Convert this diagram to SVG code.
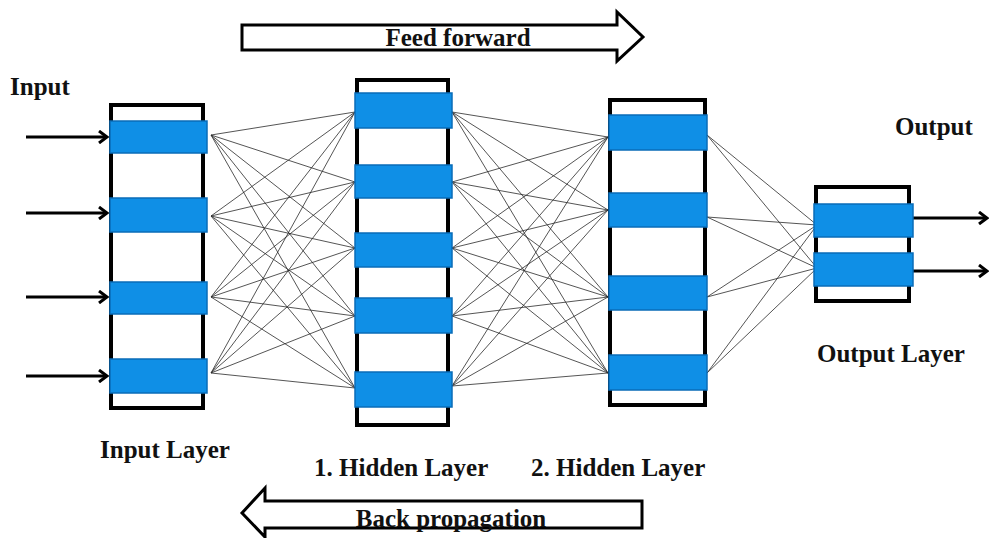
<svg xmlns="http://www.w3.org/2000/svg" width="989" height="538" viewBox="0 0 989 538">
<style>
.box{fill:#fff;stroke:#000;stroke-width:4}
.bar{fill:#0f8fe6;stroke:#0a6cb8;stroke-width:1.5}
.ln{stroke:#2a2a2a;stroke-width:0.8;fill:none}
.io{stroke:#000;stroke-width:3;fill:none}
.big{fill:#fff;stroke:#000;stroke-width:3;stroke-linejoin:miter}
.t{font-family:"Liberation Serif","Times New Roman",serif;font-weight:bold;font-size:25px;fill:#111}
</style>
<defs>
<marker id="ah" markerWidth="14" markerHeight="14" refX="11" refY="7" orient="auto" markerUnits="userSpaceOnUse">
<path d="M3,1 L11,7 L3,13" fill="none" stroke="#000" stroke-width="3"/>
</marker>
</defs>
<rect width="989" height="538" fill="#fff"/>
<g id="connectors">
<g id="in-h1">
<path class="ln" d="M211,135L355,112M211,135L355,182M211,135L355,248M211,135L355,316M211,135L355,388"/>
<path class="ln" d="M211,216L355,112M211,216L355,182M211,216L355,248M211,216L355,316M211,216L355,388"/>
<path class="ln" d="M211,297L355,112M211,297L355,182M211,297L355,248M211,297L355,316M211,297L355,388"/>
<path class="ln" d="M211,373L355,112M211,373L355,182M211,373L355,248M211,373L355,316M211,373L355,388"/>
</g>
<g id="h1-h2">
<path class="ln" d="M452,112L608,137M452,112L608,210M452,112L608,297M452,112L608,373"/>
<path class="ln" d="M452,182L608,137M452,182L608,210M452,182L608,297M452,182L608,373"/>
<path class="ln" d="M452,248L608,137M452,248L608,210M452,248L608,297M452,248L608,373"/>
<path class="ln" d="M452,316L608,137M452,316L608,210M452,316L608,297M452,316L608,373"/>
<path class="ln" d="M452,386L608,137M452,386L608,210M452,386L608,297M452,386L608,373"/>
</g>
<g id="h2-out">
<path class="ln" d="M707,135L817,225M707,135L817,268M707,217L817,225M707,217L817,268M707,297L817,225M707,297L817,268M707,373L817,225M707,373L817,268"/>
</g>
<g id="inputs">
<line class="io" x1="26" y1="137" x2="107" y2="137" marker-end="url(#ah)"/>
<line class="io" x1="26" y1="213" x2="107" y2="213" marker-end="url(#ah)"/>
<line class="io" x1="26" y1="297" x2="107" y2="297" marker-end="url(#ah)"/>
<line class="io" x1="26" y1="376" x2="107" y2="376" marker-end="url(#ah)"/>
</g>
<g id="outputs">
<line class="io" x1="913" y1="218" x2="987" y2="218" marker-end="url(#ah)"/>
<line class="io" x1="913" y1="271" x2="987" y2="271" marker-end="url(#ah)"/>
</g>
</g>
<g id="input-layer">
<rect class="box" x="111" y="105" width="92" height="303"/>
<rect class="bar" x="110" y="121" width="97" height="32"/>
<rect class="bar" x="110" y="198" width="97" height="34"/>
<rect class="bar" x="110" y="282" width="97" height="32"/>
<rect class="bar" x="110" y="359" width="97" height="34"/>
</g>
<g id="hidden-layer-1">
<rect class="box" x="357" y="80" width="91" height="345"/>
<rect class="bar" x="355" y="93" width="97" height="35"/>
<rect class="bar" x="355" y="165" width="97" height="33"/>
<rect class="bar" x="355" y="233" width="97" height="34"/>
<rect class="bar" x="355" y="298" width="97" height="35"/>
<rect class="bar" x="355" y="372" width="97" height="35"/>
</g>
<g id="hidden-layer-2">
<rect class="box" x="610" y="100" width="95" height="305"/>
<rect class="bar" x="609" y="115" width="98" height="35"/>
<rect class="bar" x="609" y="193" width="98" height="34"/>
<rect class="bar" x="609" y="276" width="98" height="34"/>
<rect class="bar" x="609" y="355" width="98" height="35"/>
</g>
<g id="output-layer">
<rect class="box" x="816" y="187" width="93" height="114"/>
<rect class="bar" x="814" y="204" width="99" height="33"/>
<rect class="bar" x="814" y="253" width="99" height="33"/>
</g>
<g id="feed-forward">
<path class="big" d="M242,25 L617,25 L617,12 L643,37 L617,61 L617,50 L242,50 Z"/>
<text class="t" x="458" y="46" text-anchor="middle" font-size="23">Feed forward</text>
</g>
<g id="back-propagation">
<path class="big" d="M642,501 L265,501 L265,488 L242,513 L265,537 L265,528 L642,528 Z"/>
<text class="t" x="451" y="527" text-anchor="middle">Back propagation</text>
</g>
<g id="labels">
<text class="t" x="10" y="95">Input</text>
<text class="t" x="895" y="135">Output</text>
<text class="t" x="100" y="458">Input Layer</text>
<text class="t" x="314" y="476">1. Hidden Layer</text>
<text class="t" x="531" y="476">2. Hidden Layer</text>
<text class="t" x="817" y="362">Output Layer</text>
</g>
</svg>
